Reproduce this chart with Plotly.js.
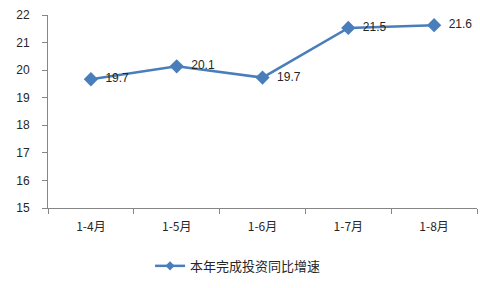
<!DOCTYPE html>
<html>
<head>
<meta charset="utf-8">
<script src="https://cdn.plot.ly/plotly-3.0.1.min.js"></script>
<style>html,body{margin:0;padding:0;background:#fff;}#chart{width:480px;height:288px;}</style>
</head>
<body>
<div id="chart"></div>
<script>
const categories = ["1-4月", "1-5月", "1-6月", "1-7月", "1-8月"];
const growth = [19.67, 20.14, 19.73, 21.53, 21.63];
const seriesName = "本年完成投资同比增速";
const yTicks = [15, 16, 17, 18, 19, 20, 21, 22];

const fontFam = "Liberation Sans, Noto Sans CJK SC, sans-serif";
const lineColor = "#4a7ebb";
const trace = {
  x: categories,
  y: growth,
  name: seriesName,
  type: "scatter",
  mode: "lines+markers+text",
  showlegend: false,
  line: {color: lineColor, width: 2.5},
  marker: {symbol: "diamond", size: 11, color: lineColor},
  texttemplate: "\u00a0\u00a0%{y:.1f}",
  textposition: "middle right",
  textfont: {family: fontFam, size: 12, color: "#262626"},
  cliponaxis: false
};
const legendTrace = {
  x: [null], y: [null],
  name: seriesName,
  type: "scatter",
  mode: "lines+markers",
  showlegend: true,
  line: {color: lineColor, width: 2.5},
  marker: {symbol: "diamond", size: 7, color: lineColor}
};
const layout = {
  width: 480, height: 288,
  margin: {l: 48, r: 3, t: 15, b: 80},
  paper_bgcolor: "#fff", plot_bgcolor: "#fff",
  font: {family: fontFam, size: 11, color: "#262626"},
  showlegend: true,
  legend: {orientation: "h", x: 0.443, xanchor: "center", y: -0.30, yanchor: "middle",
           itemwidth: 30,
           font: {family: "Noto Sans CJK SC, sans-serif", size: 13, color: "#262626"}},
  xaxis: {
    type: "category", range: [-0.5, 4.5], tickson: "boundaries",
    showline: true, linecolor: "#868686", linewidth: 1,
    ticks: "outside", ticklen: 5, tickcolor: "#868686",
    showgrid: false, zeroline: false, fixedrange: true,
    tickfont: {family: "Noto Sans CJK SC, sans-serif", size: 12, color: "#262626"},
    ticklabelstandoff: 8
  },
  yaxis: {
    range: [15, 22], tickvals: yTicks,
    showline: true, linecolor: "#868686", linewidth: 1,
    ticks: "outside", ticklen: 5, tickcolor: "#868686",
    showgrid: false, zeroline: false, fixedrange: true,
    tickfont: {family: fontFam, size: 12, color: "#262626"},
    ticklabelstandoff: 10
  }
};
Plotly.newPlot("chart", [trace, legendTrace], layout, {displayModeBar: false, staticPlot: true});
</script>
</body>
</html>
